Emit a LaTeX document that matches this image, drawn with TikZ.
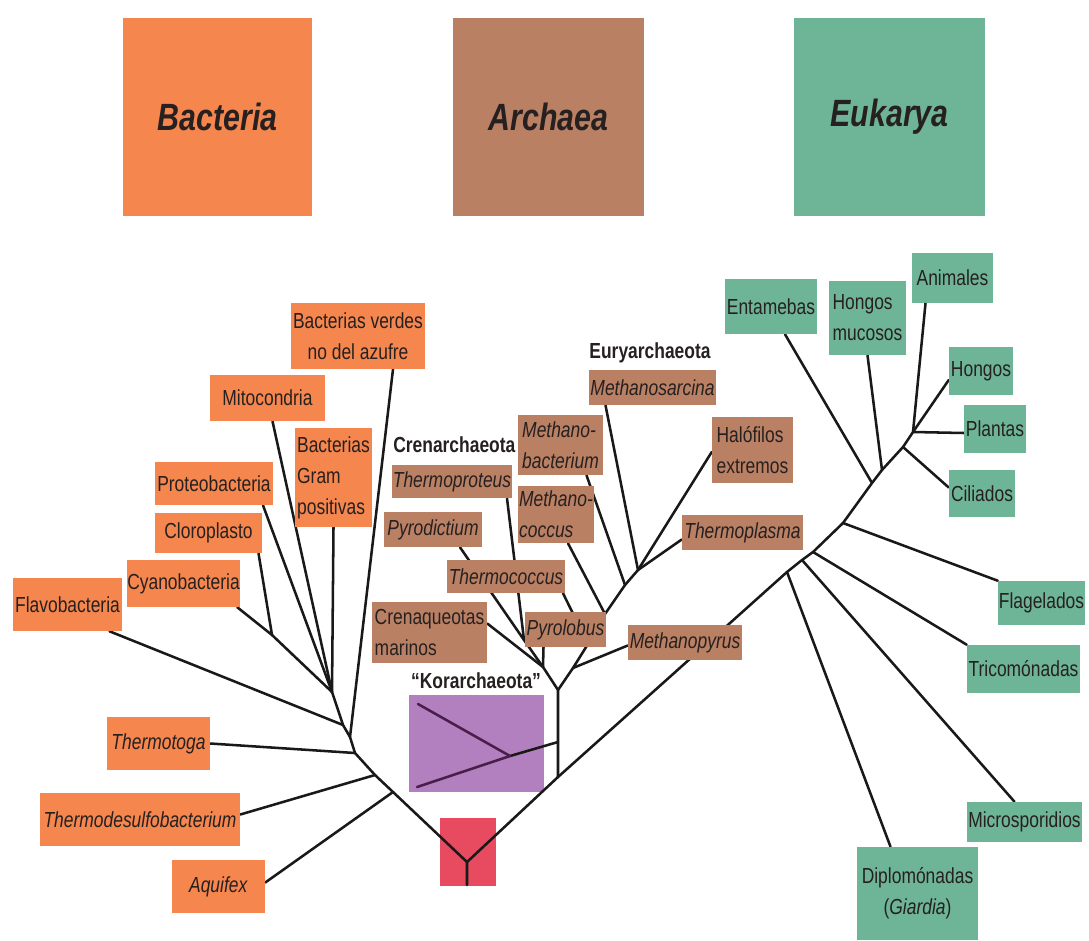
\documentclass[tikz,border=0pt]{standalone}
\usepackage{fontspec}
\setmainfont{Liberation Sans}[FakeStretch=0.8]
\usepackage{xcolor}
\usepackage{tikz}
\usetikzlibrary{calc}
\pgfdeclarelayer{back}
\pgfdeclarelayer{bg}
\pgfsetlayers{back,bg,main}
\definecolor{bactOrange}{RGB}{245,134,78}
\definecolor{archBrown}{RGB}{186,128,100}
\definecolor{eukGreen}{RGB}{110,181,152}
\definecolor{koraPurple}{RGB}{178,128,190}
\definecolor{rootRed}{RGB}{232,74,96}
\definecolor{inkText}{RGB}{38,32,32}
\definecolor{koraLine}{RGB}{72,30,74}

\begin{document}
\begin{tikzpicture}[x=0.025cm, y=-0.025cm,
		every node/.style={inner sep=0pt, text=inkText, font=\fontsize{15.5}{22}\selectfont},
		domainbox/.style={minimum width=4.75cm, minimum height=4.95cm, font=\fontsize{27}{30}\selectfont\bfseries\itshape},
		grouplabel/.style={font=\fontsize{15.5}{20}\selectfont\bfseries},
		branch/.style={line width=1.8pt, draw=black!90, line cap=round, line join=round}]
			\useasboundingbox (0,0) rectangle (1089,940);
			\node[domainbox, fill=bactOrange, minimum width=4.725cm] (bacteria) at (217.5,117) {Bacteria};
			\node[domainbox, fill=archBrown] (archaea) at (548.5,117) {Archaea};
			\node[domainbox, fill=eukGreen] (eukarya) at (889.5,117) {Eukarya};
			\foreach \nm/\xa/\ya/\xb/\yb/\al/\txt in {verdes/291/303/425/369/center/{Bacterias verdes\\no del azufre}, mito/210/375/325/421/left/{Mitocondria}, gram/295/428/372/527/left/{Bacterias\\Gram\\positivas}, proteo/155/462/273/505/left/{Proteobacteria}, cloro/155/513/262/553/left/{Cloroplasto}, cyano/127/560/240/607/left/{Cyanobacteria}, flavo/13/578/122/631/left/{Flavobacteria}, tmtoga/107/717/210/770/left/{\textit{Thermotoga}}, tdesulfo/40/793/240/846/left/{\textit{Thermodesulfobacterium}}, aquifex/172/860/265/913/left/{\textit{Aquifex}}}
			{
				\node[fill=bactOrange, align=\al, minimum width={(\xb-\xa)*0.025cm}, minimum height={(\yb-\ya)*0.025cm}] (\nm) at ({(\xa+\xb)/2},{(\ya+\yb)/2}) {\txt};
			}
			\foreach \nm/\xa/\ya/\xb/\yb/\al/\txt in {msarc/589/370/716/405/left/{\textit{Methanosarcina}}, mbact/518/415/603/475/left/{\textit{Methano-}\\\textit{bacterium}}, halo/712/417/793/483/left/{Halófilos\\extremos}, tprot/392/465/512/498/left/{\textit{Thermoproteus}}, mcocc/518/486/594/543/left/{\textit{Methano-}\\\textit{coccus}}, pyrod/384/512/482/547/left/{\textit{Pyrodictium}}, tplasma/682/515/803/550/left/{\textit{Thermoplasma}}, tcocc/447/560/565/593/left/{\textit{Thermococcus}}, crenmar/372/602/487/663/left/{Crenaqueotas\\marinos}, pyrol/525/612/606/647/left/{\textit{Pyrolobus}}, mpyr/628/625/742/660/left/{\textit{Methanopyrus}}}
			{
				\node[fill=archBrown, align=\al, minimum width={(\xb-\xa)*0.025cm}, minimum height={(\yb-\ya)*0.025cm}] (\nm) at ({(\xa+\xb)/2},{(\ya+\yb)/2}) {\txt};
			}
			\foreach \nm/\xa/\ya/\xb/\yb/\al/\txt in {entam/725/279/817/334/left/{Entamebas}, hmuc/829/281/906/355/left/{Hongos\\mucosos}, anim/912/253/993/303/left/{Animales}, hongos/949/347/1013/395/left/{Hongos}, plantas/964/405/1026/453/left/{Plantas}, cilia/949/470/1015/517/left/{Ciliados}, flag/998/581/1085/625/left/{Flagelados}, trico/967/645/1080/693/left/{Tricomónadas}, micro/967/802/1082/842/left/{Microsporidios}, diplo/857/847/978/940/center/{Diplomónadas\\(\textit{Giardia})}}
			{
				\node[fill=eukGreen, align=\al, minimum width={(\xb-\xa)*0.025cm}, minimum height={(\yb-\ya)*0.025cm}] (\nm) at ({(\xa+\xb)/2},{(\ya+\yb)/2}) {\txt};
			}
			\node[grouplabel, anchor=west] (crenlab) at (393,445) {Crenarchaeota};
			\node[grouplabel] (eurylab) at (650,353) {Euryarchaeota};
			\node[grouplabel] (koralab) at (476,681) {“Korarchaeota”};
			\begin{pgfonlayer}{back}
				\node[fill=koraPurple, minimum width=3.375cm, minimum height=2.425cm] (korabox) at (476.5,743.5) {};
				\node[fill=rootRed, minimum width=1.4cm, minimum height=1.7cm] (rootbox) at (468,852) {};
			\end{pgfonlayer}
			\coordinate (root) at (467,862);
			\coordinate (rootend) at (467,885);
			\foreach \nm/\x/\y in {b1/393/792, b2/375/775, b3/355/753, b4/350/737, b5/343/725, b6/332/692, b7/272/635, a1/558/777, a2/558/742, a3/558/690, ka/510/756, k1/417/787, k2/418/704, c1/543/667, c2/524/640, e1/573/668, e2/588/644, e3/605/614, e4/625/585, e5/638/570, u1/787/572, u2/802/560, u3/813/552, u4/843/523, u5/872/483, u6/882/470, u7/903/447, u8/913/432}
			{
				\coordinate (\nm) at (\x,\y);
			}
			\begin{pgfonlayer}{bg}
				\draw[branch] (rootend) -- (root) -- (b1) -- (b2) -- (b3) -- (b4) -- (b5) -- (b6);
				\draw[branch] (root) -- (a1) -- (u1) -- (u2) -- (u3) -- (u4) -- (u5) -- (u6) -- (u7) -- (u8) -- ($(hongos.west)+(0,9)$);
				\draw[branch] ($(aquifex.east)+(0,-4)$) -- (b1);
				\draw[branch] ($(tdesulfo.east)+(0,-5)$) -- (b2);
				\draw[branch] (tmtoga.east) -- (b3);
				\draw[branch] ($(verdes.south)+(35,0)$) -- (b4);
				\draw[branch] ($(flavo.south)+(42,0)$) -- (b5);
				\draw[branch] ($(mito.south)+(5,0)$) -- (b6);
				\draw[branch] (gram.south) -- (b6);
				\draw[branch] ($(proteo.south)+(49,0)$) -- (b6);
				\draw[branch] ($(cyano.south east)+(-3,0)$) -- (b7) -- (b6);
				\draw[branch] ($(cloro.south)+(50,0)$) -- (b7);
				\draw[branch] (a1) -- (a3) -- (c1);
				\draw[branch] (a3) -- (e1) -- (e2) -- (e3) -- (e4) -- (e5);
				\draw[branch] (a2) -- (ka);
				\draw[branch, draw=koraLine] (ka) -- (k1);
				\draw[branch, draw=koraLine] (ka) -- (k2);
				\draw[branch] ($(crenmar.east)+(0,-9)$) -- (c1);
				\draw[branch] ($(pyrod.south)+(27,0)$) -- (c2) -- (c1);
				\draw[branch] ($(tprot.south)+(55,0)$) -- (c2);
				\draw[branch] ($(pyrol.south)+(-22,0)$) -- (c1);
				\draw[branch] ($(mpyr.west)+(0,3)$) -- (e1);
				\draw[branch] ($(tcocc.south)+(57,0)$) -- (e2);
				\draw[branch] ($(mcocc.south)+(12,0)$) -- (e3);
				\draw[branch] ($(mbact.south)+(26,0)$) -- (e4);
				\draw[branch] ($(msarc.south)+(-47,0)$) -- (e5);
				\draw[branch] ($(halo.west)+(0,2)$) -- (e5);
				\draw[branch] ($(tplasma.west)+(0,7)$) -- (e5);
				\draw[branch] ($(diplo.north)+(-27,0)$) -- (u1);
				\draw[branch] ($(micro.north)+(-10,0)$) -- (u2);
				\draw[branch] (trico.north west) -- (u3);
				\draw[branch] (flag.north west) -- (u4);
				\draw[branch] ($(entam.south)+(14,0)$) -- (u5);
				\draw[branch] (hmuc.south) -- (u6);
				\draw[branch] ($(cilia.west)+(0,-6)$) -- (u7);
				\draw[branch] ($(plantas.west)+(0,4)$) -- (u8);
				\draw[branch] ($(anim.south)+(-27,0)$) -- (u8);
			\end{pgfonlayer}
		\end{tikzpicture}
\end{document}
